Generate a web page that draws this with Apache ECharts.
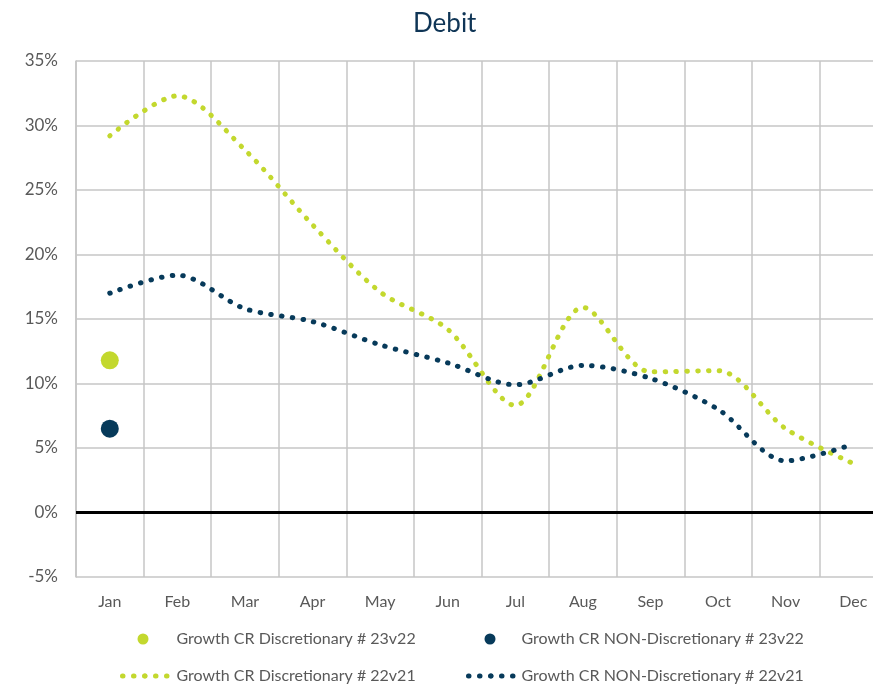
<!DOCTYPE html>
<html>
<head>
<meta charset="utf-8">
<script src="https://cdn.jsdelivr.net/npm/echarts@6/dist/echarts.min.js"></script>
<style>
  html, body { margin: 0; padding: 0; background: #fff; }
  #chart { width: 873px; height: 685px; }
</style>
</head>
<body>
<div id="chart"></div>
<script>
// Monthly growth rates (%), card spend "Debit"
const months = ['Jan', 'Feb', 'Mar', 'Apr', 'May', 'Jun', 'Jul', 'Aug', 'Sep', 'Oct', 'Nov', 'Dec'];
const disc23v22 = [11.8];
const nonDisc23v22 = [6.5];
const disc22v21 = [29.2, 32.3, 28.1, 22.3, 17.1, 14.2, 8.3, 15.9, 10.9, 11.0, 6.5, 3.8];
const nonDisc22v21 = [17.0, 18.4, 15.8, 14.8, 13.0, 11.6, 9.9, 11.4, 10.4, 8.0, 4.0, 5.3];
const yTicks = { min: -5, max: 35, step: 5 };

const names = [
  'Growth CR Discretionary # 23v22',
  'Growth CR NON-Discretionary # 23v22',
  'Growth CR Discretionary # 22v21',
  'Growth CR NON-Discretionary # 22v21'
];

const LIME = '#c3d82e';
const NAVY = '#073a5a';
const GRID = '#c6c6c6';
const TEXT = '#595959';
const FONT = 'Lato';

const dotted = [0.5, 10.3];

function legendBox(name, left, top, w, h, pad, extra) {
  return Object.assign({
    data: [name],
    left: left,
    top: top,
    padding: 0,
    itemWidth: w,
    itemHeight: h,
    selectedMode: false,
    textStyle: { color: TEXT, fontFamily: FONT, fontSize: 16, padding: [0, 0, 0, pad] }
  }, extra || {});
}

const chart = echarts.init(document.getElementById('chart'), null, { renderer: 'canvas' });
chart.setOption({
  animation: false,
  backgroundColor: '#fff',
  title: {
    text: 'Debit',
    left: 408,
    top: 6,
    textStyle: { color: '#0f3556', fontFamily: FONT, fontSize: 26, fontWeight: 'normal' }
  },
  // the plot runs past the right edge of the canvas, so the width is fixed
  grid: { left: 76, top: 61, width: 811, bottom: 108, outerBoundsMode: 'none', containLabel: false },
  legend: [
    legendBox(names[0], 137.5, 631, 11, 11, 23),
    legendBox(names[1], 484.5, 631, 11, 11, 21),
    legendBox(names[2], 120, 668, 45, 6, 4, { lineStyle: { width: 5, type: [0.5, 10.5], cap: 'round' } }),
    legendBox(names[3], 466, 668, 45, 6, 3, { lineStyle: { width: 5, type: [0.5, 10.5], cap: 'round' } })
  ],
  xAxis: {
    type: 'category',
    data: months,
    boundaryGap: true,
    axisLine: { show: false },
    axisTick: { show: false },
    axisLabel: { color: TEXT, fontFamily: FONT, fontSize: 16, margin: 17 },
    splitLine: { show: true, lineStyle: { color: GRID, width: 1.5 } }
  },
  yAxis: {
    type: 'value',
    min: yTicks.min,
    max: yTicks.max,
    interval: yTicks.step,
    axisLine: { show: true, lineStyle: { color: GRID, width: 1.5 } },
    axisTick: { show: false },
    axisLabel: { color: TEXT, fontFamily: FONT, fontSize: 17, margin: 18, formatter: '{value}%' },
    splitLine: { show: true, lineStyle: { color: GRID, width: 1.5 } }
  },
  series: [
    {
      name: names[0],
      type: 'scatter',
      data: disc23v22,
      symbol: 'circle',
      symbolSize: 18,
      itemStyle: { color: LIME, opacity: 1 },
      z: 4,
      markLine: {
        silent: true,
        symbol: 'none',
        label: { show: false },
        lineStyle: { color: '#000', width: 3, type: 'solid' },
        data: [{ yAxis: 0 }],
        z: 1
      }
    },
    {
      name: names[1],
      type: 'scatter',
      data: nonDisc23v22,
      symbol: 'circle',
      symbolSize: 18,
      itemStyle: { color: NAVY, opacity: 1 },
      z: 4
    },
    {
      name: names[2],
      type: 'line',
      data: disc22v21,
      smooth: 0.3,
      symbol: 'none',
      itemStyle: { color: LIME },
      lineStyle: { color: LIME, width: 5, type: dotted, cap: 'round' },
      z: 3
    },
    {
      name: names[3],
      type: 'line',
      data: nonDisc22v21,
      smooth: 0.3,
      symbol: 'none',
      itemStyle: { color: NAVY },
      lineStyle: { color: NAVY, width: 5, type: dotted, cap: 'round' },
      z: 3
    }
  ]
});
</script>
</body>
</html>
